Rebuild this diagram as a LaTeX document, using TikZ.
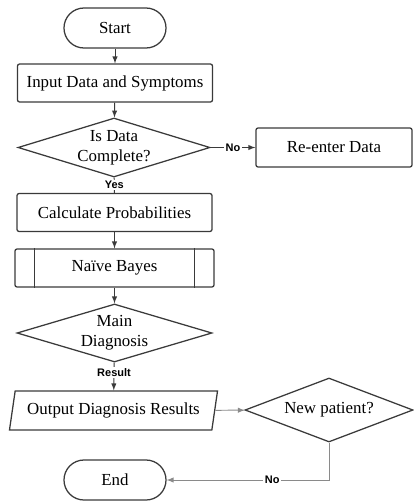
\documentclass[tikz,border=0pt]{standalone}
\usepackage{fontspec}
\setmainfont{Liberation Serif}
\newfontfamily\labelfont{Liberation Sans}
\usetikzlibrary{shapes.geometric,arrows}

\definecolor{linegray}{HTML}{3A3A3A}
\definecolor{lightline}{HTML}{8A8A8A}

\tikzset{
  terminal/.style={draw=linegray, line width=0.9pt, rounded corners=0.5cm, minimum width=2.55cm, minimum height=1cm, font=\fontsize{12}{14}\selectfont},
  process/.style={draw=linegray, line width=0.9pt, rounded corners=1.5pt, minimum width=4.875cm, minimum height=0.95cm, font=\fontsize{12}{14}\selectfont},
  predef/.style={process, minimum width=4.975cm},
  decision/.style={draw=linegray, line width=0.9pt, diamond, aspect=3, inner sep=0pt, align=center, font=\fontsize{12}{14}\selectfont},
  io/.style={draw=linegray, line width=0.9pt, trapezium, trapezium left angle=78, trapezium right angle=102, trapezium stretches=true, minimum width=5.2cm, minimum height=0.975cm, font=\fontsize{12}{14}\selectfont},
  flow/.style={draw=linegray, line width=0.7pt, -latex},
  lbl/.style={fill=white, inner sep=1pt, font=\labelfont\bfseries\fontsize{7.8}{9}\selectfont}
}

\begin{document}
\begin{tikzpicture}[x=0.025cm, y=-0.025cm]
\useasboundingbox (0,0) rectangle (414,502);
\node[terminal] (start) at (115,28) {Start};
\node[process] (input) at (115,83) {Input Data and Symptoms};
\node[decision, minimum width=4.8cm, minimum height=1.475cm] (check) at (114,147.5) {Is Data\\Complete?};
\node[process, minimum width=3.9cm, minimum height=0.975cm] (reenter) at (334,147.5) {Re-enter Data};
\node[process] (calc) at (114.5,212.5) {Calculate Probabilities};
\node[predef] (bayes) at (114.5,268) {Naïve Bayes};
\draw[linegray, line width=0.9pt] ([xshift=0.5cm]bayes.north west) -- ([xshift=0.5cm]bayes.south west);
\draw[linegray, line width=0.9pt] ([xshift=-0.5cm]bayes.north east) -- ([xshift=-0.5cm]bayes.south east);
\node[decision, minimum width=4.875cm, minimum height=1.45cm] (diag) at (114.5,333) {Main\\Diagnosis};
\node[io] (output) at (113.5,410.5) {Output Diagnosis Results};
\node[decision, minimum width=4.2cm, minimum height=1.6cm] (newp) at (329,410) {New patient?};
\node[terminal] (end) at (115,480) {End};

% connectors
\path[flow] (start) -- (input);
\path[flow] (input) -- (check);
\path[flow] (check) -- node[lbl]{No} (reenter);
\path[draw=linegray, line width=0.7pt] (check) -- node[lbl]{Yes} (calc);
\path[flow] (calc) -- (bayes);
\path[flow] (bayes) -- (diag);
\path[flow] (diag) -- node[lbl, pos=0.35]{Result} (output);
\path[flow, draw=lightline] (output) -- (newp);
\path[flow, draw=lightline] (newp) |- node[lbl, pos=0.675]{No} (end);
\end{tikzpicture}
\end{document}
